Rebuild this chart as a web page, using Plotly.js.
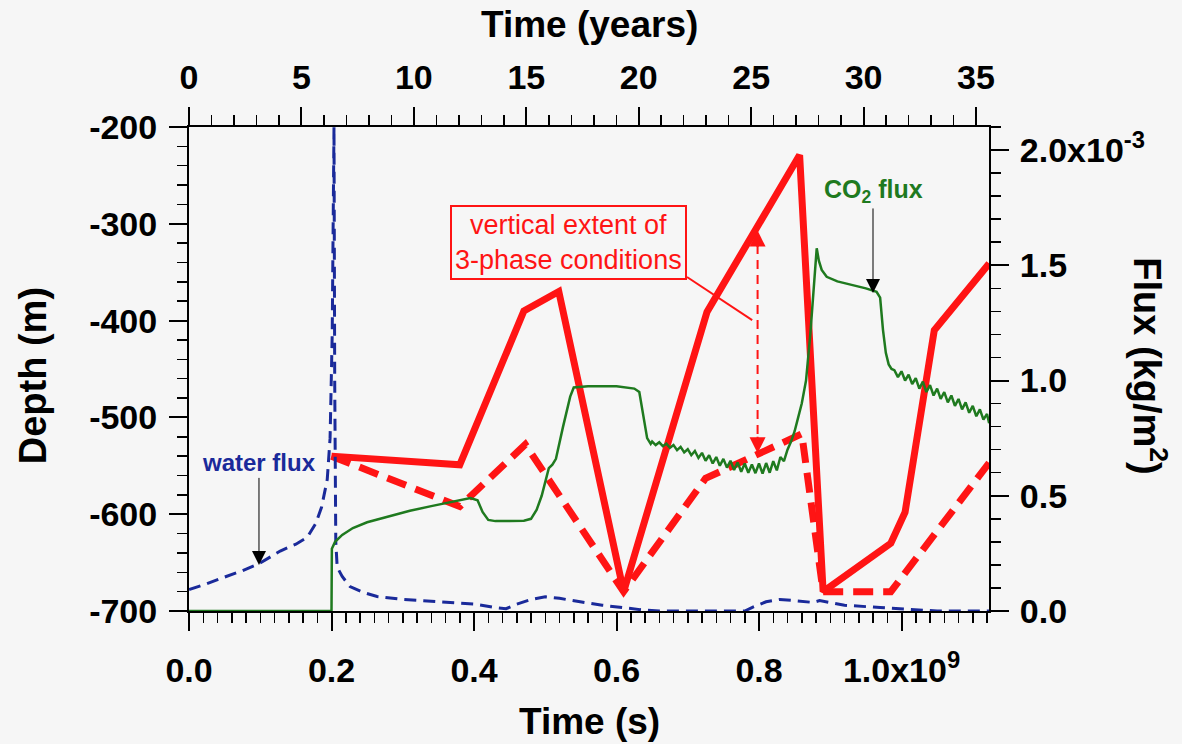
<!DOCTYPE html>
<html>
<head>
<meta charset="utf-8">
<script src="https://cdn.plot.ly/plotly-3.0.1.min.js"></script>
<style>
html,body{margin:0;padding:0;background:#f6f6f6;}
#chart{width:1182px;height:744px;}
</style>
</head>
<body>
<div id="chart"></div>
<script>
// ---- Data (time in seconds, depth in m, flux in kg/m^2) ----
const redSolidTime  = [0.200e9, 0.380e9, 0.470e9, 0.519e9, 0.610e9, 0.727e9, 0.857e9, 0.890e9, 0.985e9, 1.005e9, 1.046e9, 1.123e9];
const redSolidDepth = [-540, -549, -390, -370, -680, -391, -229, -680, -630, -598, -410, -341];

const redDashTime  = [0.200e9, 0.380e9, 0.472e9, 0.610e9, 0.725e9, 0.860e9, 0.890e9, 0.985e9, 1.123e9];
const redDashDepth = [-540, -592, -528, -680, -563, -517, -680, -680, -547];

const co2Time = [0.000e9, 0.200e9, 0.2005e9, 0.205e9, 0.215e9, 0.230e9, 0.250e9, 0.280e9, 0.310e9, 0.340e9, 0.370e9, 0.395e9, 0.405e9, 0.412e9, 0.420e9, 0.430e9, 0.450e9, 0.470e9, 0.480e9, 0.488e9, 0.495e9, 0.500e9, 0.505e9, 0.510e9, 0.515e9, 0.525e9, 0.535e9, 0.540e9, 0.560e9, 0.600e9, 0.625e9, 0.632e9, 0.638e9, 0.643e9, 0.648e9,
  0.650e9, 0.655e9, 0.660e9, 0.665e9, 0.670e9, 0.675e9, 0.680e9, 0.685e9, 0.690e9, 0.695e9, 0.700e9, 0.705e9, 0.710e9, 0.715e9, 0.720e9, 0.725e9, 0.730e9, 0.735e9, 0.740e9, 0.745e9, 0.750e9, 0.755e9, 0.760e9, 0.765e9, 0.770e9, 0.775e9, 0.780e9, 0.785e9, 0.790e9, 0.795e9, 0.800e9, 0.805e9, 0.810e9, 0.815e9, 0.820e9, 0.825e9, 0.830e9, 0.835e9, 0.840e9, 0.845e9, 0.850e9, 0.855e9, 0.860e9, 0.866e9, 0.872e9, 0.878e9, 0.881e9, 0.884e9, 0.888e9, 0.895e9, 0.910e9, 0.930e9, 0.950e9, 0.965e9, 0.970e9, 0.974e9, 0.978e9, 0.982e9, 0.986e9,
  0.990e9, 0.995e9, 1.000e9, 1.005e9, 1.010e9, 1.015e9, 1.020e9, 1.025e9, 1.030e9, 1.035e9, 1.040e9, 1.045e9, 1.050e9, 1.055e9, 1.060e9, 1.065e9, 1.070e9, 1.075e9, 1.080e9, 1.085e9, 1.090e9, 1.095e9, 1.100e9, 1.105e9, 1.110e9, 1.115e9, 1.120e9, 1.123e9];
const co2Flux = [0, 0, 0.27e-3, 0.30e-3, 0.33e-3, 0.36e-3, 0.385e-3, 0.41e-3, 0.435e-3, 0.455e-3, 0.475e-3, 0.49e-3, 0.48e-3, 0.43e-3, 0.395e-3, 0.39e-3, 0.39e-3, 0.392e-3, 0.40e-3, 0.44e-3, 0.50e-3, 0.56e-3, 0.62e-3, 0.635e-3, 0.66e-3, 0.80e-3, 0.93e-3, 0.97e-3, 0.975e-3, 0.975e-3, 0.965e-3, 0.95e-3, 0.85e-3, 0.75e-3, 0.725e-3,
  0.735e-3, 0.720e-3, 0.732e-3, 0.715e-3, 0.726e-3, 0.708e-3, 0.720e-3, 0.698e-3, 0.712e-3, 0.688e-3, 0.702e-3, 0.676e-3, 0.694e-3, 0.664e-3, 0.686e-3, 0.652e-3, 0.676e-3, 0.640e-3, 0.668e-3, 0.630e-3, 0.660e-3, 0.622e-3, 0.652e-3, 0.612e-3, 0.645e-3, 0.604e-3, 0.640e-3, 0.600e-3, 0.636e-3, 0.598e-3, 0.640e-3, 0.596e-3, 0.642e-3, 0.600e-3, 0.650e-3, 0.610e-3, 0.668e-3, 0.650e-3, 0.700e-3, 0.735e-3, 0.780e-3, 0.840e-3, 0.900e-3, 1.000e-3, 1.200e-3, 1.450e-3, 1.574e-3, 1.520e-3, 1.480e-3, 1.450e-3, 1.430e-3, 1.415e-3, 1.400e-3, 1.385e-3, 1.360e-3, 1.220e-3, 1.120e-3, 1.070e-3, 1.050e-3,
  1.045e-3, 1.015e-3, 1.040e-3, 1.000e-3, 1.025e-3, 0.985e-3, 1.010e-3, 0.965e-3, 0.995e-3, 0.950e-3, 0.980e-3, 0.935e-3, 0.965e-3, 0.920e-3, 0.950e-3, 0.905e-3, 0.935e-3, 0.890e-3, 0.920e-3, 0.875e-3, 0.905e-3, 0.860e-3, 0.890e-3, 0.845e-3, 0.875e-3, 0.830e-3, 0.855e-3, 0.815e-3];

const waterTime = [0.000e9, 0.025e9, 0.048e9, 0.075e9, 0.098e9, 0.128e9, 0.150e9, 0.166e9, 0.178e9, 0.186e9, 0.194e9, 0.198e9, 0.201e9, 0.2035e9, 0.2045e9, 0.206e9, 0.208e9, 0.215e9, 0.226e9, 0.245e9, 0.264e9, 0.300e9, 0.350e9, 0.400e9, 0.430e9, 0.445e9, 0.460e9, 0.480e9, 0.500e9, 0.520e9, 0.549e9, 0.580e9, 0.633e9, 0.660e9, 0.780e9, 0.790e9, 0.810e9, 0.829e9, 0.850e9, 0.876e9, 0.885e9, 0.920e9, 0.970e9, 1.016e9, 1.050e9, 1.123e9];
const waterFlux = [0.093e-3, 0.118e-3, 0.145e-3, 0.175e-3, 0.205e-3, 0.26e-3, 0.29e-3, 0.32e-3, 0.38e-3, 0.45e-3, 0.57e-3, 0.75e-3, 1.2e-3, 2.1e-3, 1.0e-3, 0.30e-3, 0.19e-3, 0.15e-3, 0.106e-3, 0.08e-3, 0.063e-3, 0.05e-3, 0.04e-3, 0.03e-3, 0.015e-3, 0.01e-3, 0.03e-3, 0.05e-3, 0.062e-3, 0.055e-3, 0.04e-3, 0.025e-3, 0.006e-3, 0, 0, 0.015e-3, 0.04e-3, 0.05e-3, 0.045e-3, 0.037e-3, 0.045e-3, 0.025e-3, 0.015e-3, 0.006e-3, 0, 0];

// ---- Axis ticks ----
const timeTickVals = [0, 0.2e9, 0.4e9, 0.6e9, 0.8e9, 1.0e9];
const timeTickText = ["0.0", "0.2", "0.4", "0.6", "0.8", "1.0x10<sup>9</sup>"];
const yearTickVals = [0, 5, 10, 15, 20, 25, 30, 35];
const depthTickVals = [-700, -600, -500, -400, -300, -200];
const depthTickText = ["-700", "-600", "-500", "-400", "-300", "-200"];
const fluxTickVals = [0, 0.5e-3, 1.0e-3, 1.5e-3, 2.0e-3];
const fluxTickText = ["0.0", "0.5", "1.0", "1.5", "2.0x10<sup>-3</sup>"];

const SEC_PER_YEAR = 3.156e7;
const XMAX = 1.1228e9;

const FONT = "Liberation Sans, Arial, Helvetica, sans-serif";
const tickFont = {family: FONT, size: 34, color: "#000", weight: "bold"};
const titleFont = {family: FONT, size: 37, color: "#000", weight: "bold"};
const vTitleFont = {family: FONT, size: 38, color: "#000", weight: "bold"};
const RED = "#ff1414", GREEN = "#1f7a1f", BLUE = "#1a2a9a";

const traces = [
  {x: waterTime, y: waterFlux, xaxis: "x", yaxis: "y2", mode: "lines",
   line: {color: BLUE, width: 3, dash: "12px,7px"}, hoverinfo: "skip"},
  {x: co2Time, y: co2Flux, xaxis: "x", yaxis: "y2", mode: "lines",
   line: {color: GREEN, width: 2.5}, hoverinfo: "skip"},
  {x: redDashTime, y: redDashDepth, xaxis: "x", yaxis: "y", mode: "lines",
   line: {color: RED, width: 7, dash: "20px,10px"}, hoverinfo: "skip"},
  {x: redSolidTime, y: redSolidDepth, xaxis: "x", yaxis: "y", mode: "lines",
   line: {color: RED, width: 7}, hoverinfo: "skip"},
  {x: [0, XMAX / SEC_PER_YEAR], y: [null, null], xaxis: "x2", yaxis: "y", mode: "lines",
   showlegend: false, hoverinfo: "skip"}
];

const axisCommon = {
  showline: true, linecolor: "#000", linewidth: 2, showgrid: false, zeroline: false,
  ticks: "outside", ticklen: 18, tickwidth: 2, tickcolor: "#000", tickfont: tickFont
};

const layout = {
  width: 1182, height: 744,
  margin: {l: 189, r: 193, t: 127, b: 133, pad: 0},
  paper_bgcolor: "#f6f6f6", plot_bgcolor: "#f6f6f6",
  showlegend: false,
  xaxis: Object.assign({}, axisCommon, {
    range: [0, XMAX], tickmode: "array", tickvals: timeTickVals, ticktext: timeTickText,
    ticklabelstandoff: 10,
    minor: {tickmode: "linear", tick0: 0, dtick: 0.02e9, ticks: "outside", ticklen: 10, tickwidth: 1.5, tickcolor: "#000", showgrid: false},
    anchor: "y"
  }),
  xaxis2: Object.assign({}, axisCommon, {
    range: [0, XMAX / SEC_PER_YEAR], overlaying: "x", side: "top", anchor: "y",
    tickmode: "array", tickvals: yearTickVals, ticklabelstandoff: 4,
    minor: {tickmode: "linear", tick0: 0, dtick: 1, ticks: "outside", ticklen: 10, tickwidth: 1.5, tickcolor: "#000", showgrid: false}
  }),
  yaxis: Object.assign({}, axisCommon, {
    range: [-700, -200], tickmode: "array", tickvals: depthTickVals, ticktext: depthTickText,
    ticklabelstandoff: 5,
    minor: {tickmode: "linear", tick0: 0, dtick: 20, ticks: "outside", ticklen: 10, tickwidth: 1.5, tickcolor: "#000", showgrid: false},
    anchor: "x"
  }),
  yaxis2: Object.assign({}, axisCommon, {
    range: [0, 2.1e-3], overlaying: "y", side: "right", anchor: "x",
    tickmode: "array", tickvals: fluxTickVals, ticktext: fluxTickText, ticklabelstandoff: 4,
    minor: {tickmode: "linear", tick0: 0, dtick: 0.1e-3, ticks: "outside", ticklen: 10, tickwidth: 1.5, tickcolor: "#000", showgrid: false}
  }),
  shapes: [
    {type: "line", xref: "x", yref: "y", x0: 0.798e9, x1: 0.798e9, y0: -322, y1: -522,
     line: {color: RED, width: 2, dash: "9px,6px"}},
    {type: "line", xref: "paper", yref: "paper", x0: 0.6225, y0: 0.690, x1: 0.704, y1: 0.601,
     line: {color: RED, width: 2}}
  ],
  annotations: [
    {xref: "paper", yref: "paper", x: 0.5, y: 1.211, text: "Time (years)", showarrow: false,
     xanchor: "center", yanchor: "middle", font: titleFont},
    {xref: "paper", yref: "paper", x: 0.5, y: -0.228, text: "Time (s)", showarrow: false,
     xanchor: "center", yanchor: "middle", font: titleFont},
    {xref: "paper", yref: "paper", x: -0.195, y: 0.485, text: "Depth (m)", showarrow: false,
     textangle: -90, xanchor: "center", yanchor: "middle", font: vTitleFont},
    {xref: "paper", yref: "paper", x: 1.201, y: 0.506, text: "Flux (kg/m<sup>2</sup>)", showarrow: false,
     textangle: 90, xanchor: "center", yanchor: "middle", font: vTitleFont},
    {xref: "x", yref: "y2", x: 0.0982e9, y: 0.20e-3, ax: 0, ay: -102, text: "water flux",
     showarrow: true, arrowhead: 2, arrowsize: 2.8, arrowwidth: 1, arrowcolor: "#000",
     font: {family: FONT, size: 24, color: BLUE, weight: "bold"}},
    {xref: "x", yref: "y2", x: 0.96e9, y: 1.38e-3, ax: 0, ay: -102, text: "CO<sub>2</sub> flux",
     showarrow: true, arrowhead: 2, arrowsize: 2.8, arrowwidth: 1, arrowcolor: "#000",
     font: {family: FONT, size: 25, color: GREEN, weight: "bold"}},
    {xref: "paper", yref: "paper", x: 0.474, y: 0.762, text: "vertical extent of<br>3-phase conditions",
     showarrow: false, xanchor: "center", yanchor: "middle", bordercolor: RED, borderwidth: 2, borderpad: 3,
     bgcolor: "#f6f6f6", font: {family: FONT, size: 27, color: RED}},
    {xref: "x", yref: "y", x: 0.798e9, y: -307, ax: 0, ay: 18, text: "", showarrow: true,
     arrowhead: 2, arrowsize: 1.6, arrowwidth: 2, arrowcolor: RED},
    {xref: "x", yref: "y", x: 0.798e9, y: -537, ax: 0, ay: -18, text: "", showarrow: true,
     arrowhead: 2, arrowsize: 1.6, arrowwidth: 2, arrowcolor: RED}
  ]
};

Plotly.newPlot("chart", traces, layout, {displayModeBar: false, staticPlot: true});
</script>
</body>
</html>
